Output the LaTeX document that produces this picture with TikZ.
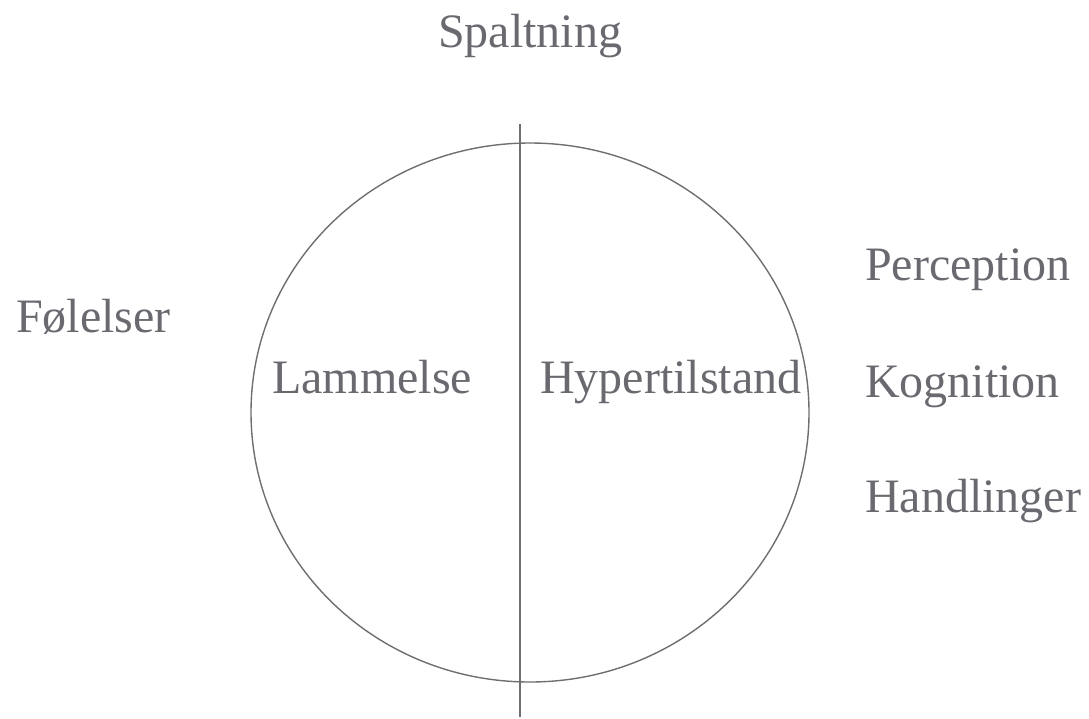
\documentclass[tikz,border=0pt]{standalone}
\usepackage{fontspec}
\setmainfont{Liberation Serif}
\usetikzlibrary{shapes.geometric}
\definecolor{inkgray}{RGB}{105,105,112}
\definecolor{linegray}{RGB}{110,110,115}
\begin{document}
\begin{tikzpicture}[x=1pt,y=-1pt,
  lbl/.style={anchor=base west,inner sep=0pt,text=inkgray,font=\fontsize{48}{57}\selectfont},
  ring/.style={draw=linegray,line width=1.4pt,ellipse,minimum width=558pt,minimum height=539pt,inner sep=0pt},
  splitline/.style={draw=linegray,line width=1.4pt}]
\useasboundingbox (0,0) rectangle (1089,718);
\node[ring] (circ) at (530,412.5) {};
\coordinate (ltop) at (520,124);
\coordinate (lbot) at (520,717);
\draw[splitline] (ltop) -- (lbot);
\node[lbl] (spalt) at (438,47) {Spaltning};
\node[lbl] (fol) at (16,332) {Følelser};
\node[lbl] (lam) at (272,393) {Lammelse};
\node[lbl] (hyp) at (540,393) {Hypertilstand};
\node[lbl] (per) at (865,280) {Perception};
\node[lbl] (kog) at (865,397) {Kognition};
\node[lbl] (han) at (865,512) {Handlinger};
\end{tikzpicture}
\end{document}
